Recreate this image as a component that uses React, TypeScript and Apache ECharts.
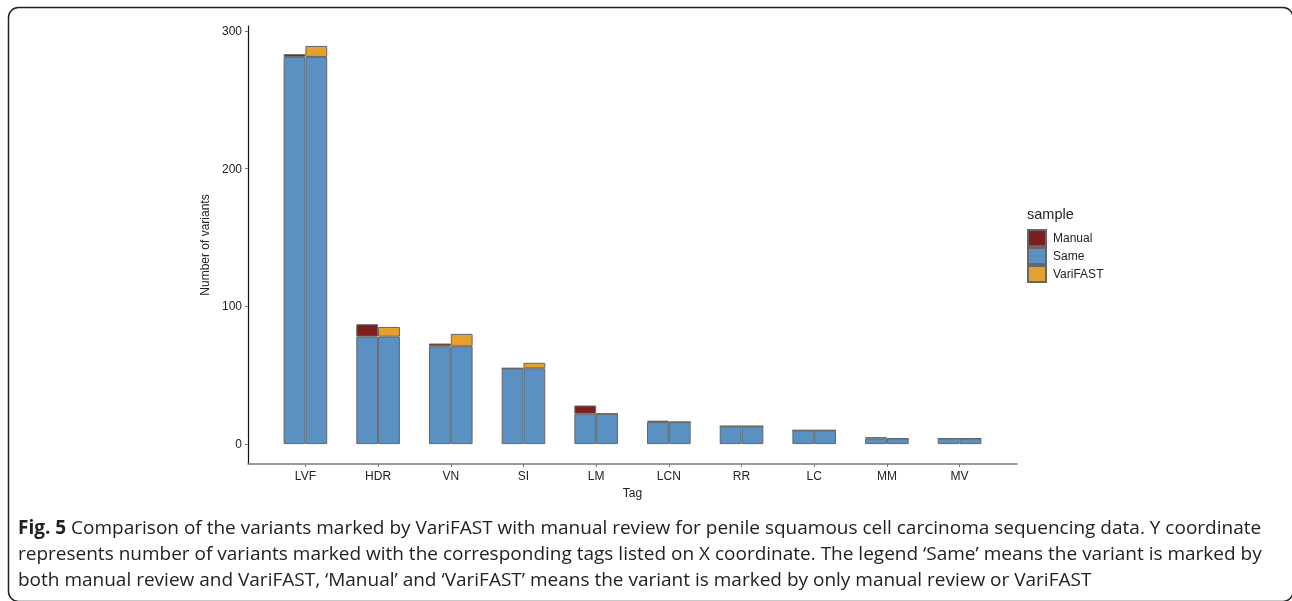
import React, { useEffect, useRef } from "react";
import * as echarts from "echarts";

const categories = ["LVF", "HDR", "VN", "SI", "LM", "LCN", "RR", "LC", "MM", "MV"];
const sameValues = [281, 78, 71, 55, 22, 16, 13, 10, 4, 4];
const manualValues = [2, 9, 2, 0, 6, 1, 0, 0, 1, 0];
const varifastValues = [8, 7, 9, 4, 0, 0, 0, 0, 0, 0];
const yTicks = [0, 100, 200, 300];
const xTicks = [0, 1, 2, 3, 4, 5, 6, 7, 8, 9];

const captionLines = [
  "{b|Fig. 5} Comparison of the variants marked by VariFAST with manual review for penile squamous cell carcinoma sequencing data. Y coordinate",
  "represents number of variants marked with the corresponding tags listed on X coordinate. The legend \u2018Same\u2019 means the variant is marked by",
  "both manual review and VariFAST, \u2018Manual\u2019 and \u2018VariFAST\u2019 means the variant is marked by only manual review or VariFAST",
];

const COLORS = { Manual: "#7E1F1F", Same: "#5A91C2", VariFAST: "#E3A22E" };
const BORDER = "#666666";
const FONT = "'Liberation Sans', Arial, sans-serif";
const CAPFONT = "'Open Sans', 'Noto Sans', sans-serif";

const Y_MIN = -14.45;
const Y_MAX = 303.45;
const X_MIN = -0.79;
const X_MAX = 9.79;

export default function App() {
  const ref = useRef<HTMLDivElement>(null);
  useEffect(() => {
    if (!ref.current) return;
    const chart = echarts.init(ref.current, undefined, { renderer: "svg" });
    const gridLeft = 248;
    const gridWidth = 769;
    const unit = gridWidth / (X_MAX - X_MIN);
    const barGridLeft = gridLeft + (-0.5 - X_MIN) * unit;
    const barGridWidth = categories.length * unit;
    const barBase = {
      type: "bar" as const,
      xAxisIndex: 1,
      yAxisIndex: 1,
      barWidth: 0.3 * unit,
      barGap: "0%",
    };
    const style = (c: string) => ({ color: c, borderColor: BORDER, borderWidth: 1 });
    chart.setOption({
      animation: false,
      grid: [
        { left: gridLeft, top: 26, width: gridWidth, height: 438, containLabel: false },
        { left: barGridLeft, top: 26, width: barGridWidth, height: 438, containLabel: false },
      ],
      xAxis: [
        {
          type: "value",
          gridIndex: 0,
          min: X_MIN,
          max: X_MAX,
          splitLine: { show: false },
          axisLine: { show: true, onZero: false, lineStyle: { color: "#7a7a7a", width: 1.5 } },
          axisTick: { show: true, length: 3, customValues: xTicks, lineStyle: { color: "#7a7a7a" } },
          axisLabel: {
            customValues: xTicks,
            formatter: (v: number) => categories[Math.round(v)] ?? "",
            color: "#222",
            fontSize: 12,
            fontFamily: FONT,
            margin: 6,
          },
          name: "Tag",
          nameLocation: "middle",
          nameGap: 22,
          nameTextStyle: { color: "#222", fontSize: 12, fontFamily: FONT },
        },
        {
          type: "category",
          gridIndex: 1,
          data: categories,
          show: false,
        },
      ],
      yAxis: [
        {
          type: "value",
          gridIndex: 0,
          min: Y_MIN,
          max: Y_MAX,
          splitLine: { show: false },
          axisLine: { show: true, onZero: false, lineStyle: { color: "#111", width: 1.2 } },
          axisTick: { show: true, length: 3, customValues: yTicks, lineStyle: { color: "#7a7a7a" } },
          axisLabel: {
            customValues: yTicks,
            color: "#222",
            fontSize: 12,
            fontFamily: FONT,
            margin: 6,
          },
          name: "Number of variants",
          nameLocation: "middle",
          nameGap: 37,
          nameTextStyle: { color: "#222", fontSize: 12, fontFamily: FONT },
        },
        {
          type: "value",
          gridIndex: 1,
          min: Y_MIN,
          max: Y_MAX,
          show: false,
          splitLine: { show: false },
        },
      ],
      legend: {
        data: ["Manual", "Same", "VariFAST"],
        orient: "vertical",
        left: 1027,
        top: 229,
        padding: 0,
        itemWidth: 18,
        itemHeight: 16,
        itemGap: 0,
        icon: "rect",
        selectedMode: false,
        textStyle: { color: "#222", fontSize: 12, fontFamily: FONT, padding: [0, 0, 0, 2] },
      },
      series: [
        { ...barBase, name: "Same", stack: "manual", data: sameValues, itemStyle: style(COLORS.Same) },
        { ...barBase, name: "Manual", stack: "manual", data: manualValues, itemStyle: style(COLORS.Manual) },
        { ...barBase, name: "Same", stack: "varifast", data: sameValues, itemStyle: style(COLORS.Same) },
        { ...barBase, name: "VariFAST", stack: "varifast", data: varifastValues, itemStyle: style(COLORS.VariFAST) },
      ],
      graphic: [
        {
          type: "rect",
          shape: { x: 8.5, y: 7.5, width: 1284.5, height: 594, r: 10 },
          style: { fill: "none", stroke: "#222", lineWidth: 1.5 },
          silent: true,
        },
        {
          type: "text",
          left: 1027,
          top: 206,
          style: { text: "sample", fill: "#222", fontSize: 14.5, fontFamily: FONT },
        },
        ...captionLines.map((t, i) => ({
          type: "text",
          x: 18,
          y: 527 + i * 26,
          style: {
            text: t,
            fill: "#222",
            fontSize: 19,
            fontFamily: CAPFONT,
            verticalAlign: "middle",
            rich: { b: { fontWeight: "bold", fontSize: 19, fontFamily: CAPFONT, fill: "#222" } },
          },
        })),
      ],
    });
    return () => chart.dispose();
  }, []);
  return <div ref={ref} style={{ position: "fixed", left: 0, top: 0, width: 1292, height: 601 }} />;
}
